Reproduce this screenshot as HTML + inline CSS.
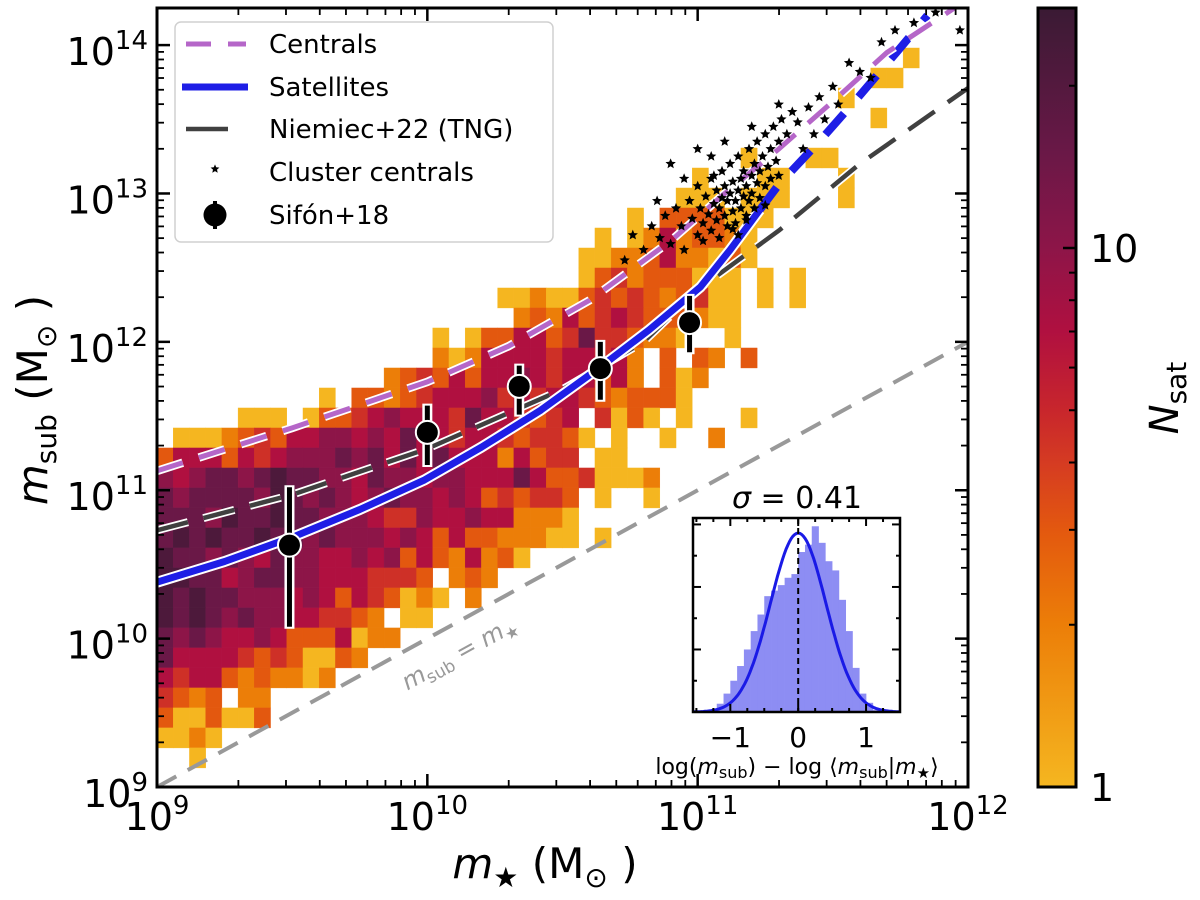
<!DOCTYPE html>
<html><head><meta charset="utf-8"><style>
html,body{margin:0;padding:0;background:#fff;}
svg{display:block;font-family:"DejaVu Sans","Liberation Sans",sans-serif;}
</style></head><body>
<svg id="chart" width="1200" height="900" viewBox="0 0 1200 900" xmlns="http://www.w3.org/2000/svg">
<defs>
<clipPath id="plotclip"><rect x="157" y="8" width="811" height="779"/></clipPath>
<clipPath id="insetclip"><rect x="693" y="518" width="207" height="194"/></clipPath>
<linearGradient id="cbgrad" x1="0" y1="1" x2="0" y2="0"></linearGradient>
</defs>
</svg>
<script>
// ---------- data ----------
const heatRows = [
"","",
"..............................................1",
"............................................11",
"..........................................1",
"............................................1",
"",
"....................................1...11",
".................................1...11...1",
"................................111.111...1",
".............................1.3333111",
"...........................1.12523321",
"..........................11223522131",
"..........................1342333111.1.1",
".....................112113434323411.1.1",
"......................23253454333211",
".................1.13355347443221..1",
".................2125555455452.3.32.3",
"..............2343535565455352.312",
"..........1.332345556454554323331",
".....111.13345655547554345.4131.1...1",
".11123435566565755455434431.1..1..2",
"35553545666767575755525344.11.",
"6567767877665766566555753341112",
"76777768767656766565343443.1..1",
"77768778776665446556552221",
"78787787767666565353322211.1",
"87767657665565635325231",
"88775677665554443.232",
"878776665653543121.2",
"87876766554432.11",
"767655653335122",
"7555543431132",
"54553232212",
"4323.22",
"3113113",
"1121",
"..1",
""
];
const levelCounts = [0, 1, 2, 3, 4.5, 7, 10, 15, 22];

const centralsX = [9.0, 9.5, 10.0, 10.3, 10.6, 10.9, 11.1, 11.3, 11.5, 11.7, 11.95, 12.1];
const centralsY = [11.13, 11.42, 11.73, 11.97, 12.28, 12.68, 13.0, 13.3, 13.62, 13.95, 14.25, 14.45];

const satX = [9.0, 9.25, 9.51, 9.75, 9.99, 10.2, 10.42, 10.64, 10.82, 11.01, 11.12, 11.23, 11.3, 11.45, 11.59, 11.74, 11.85];
const satY = [10.38, 10.52, 10.69, 10.87, 11.07, 11.29, 11.54, 11.83, 12.08, 12.37, 12.62, 12.89, 13.06, 13.35, 13.64, 13.96, 14.2];
const satSolidMax = 11.23;

const tngX = [9.0, 9.5, 10.0, 10.5, 10.8, 11.0, 11.3, 11.6, 12.0];
const tngY = [10.73, 10.97, 11.28, 11.68, 12.0, 12.35, 12.75, 13.2, 13.71];

const sifonX = [9.49, 10.0, 10.34, 10.64, 10.97];
const sifonY = [10.63, 11.39, 11.70, 11.82, 12.13];
const sifonHi = [11.02, 11.57, 11.84, 12.0, 12.31];
const sifonLo = [10.08, 11.17, 11.51, 11.61, 11.93];

const starX = [10.73,10.76,10.8,10.83,10.86,10.88,10.9,10.92,10.94,10.95,10.97,10.98,11.0,11.0,11.01,
11.02,11.03,11.04,11.05,11.05,11.06,11.07,11.07,11.08,11.09,11.09,11.1,11.1,11.11,11.11,11.12,11.12,11.13,11.13,11.14,11.14,11.15,11.15,11.16,11.16,11.17,11.17,11.18,11.18,11.19,11.19,11.2,11.2,11.21,11.21,11.22,11.22,11.23,11.23,11.24,11.25,11.25,11.26,11.27,11.27,11.28,11.29,11.3,11.3,11.31,11.33,11.35,11.37,11.39,11.41,11.43,11.45,11.47,11.5,11.52,11.56,11.6,11.64,11.68,11.73,11.8,11.88,11.97,11.3,11.2,11.0,11.05,10.95,11.1,11.15,11.25,11.08,10.85,10.9,11.02,11.13,11.18,11.06];
const starY = [12.55,12.72,12.62,12.78,12.7,12.85,12.66,12.9,12.78,12.62,12.95,12.83,12.72,13.05,12.9,
12.8,12.98,12.86,13.1,12.75,12.93,13.02,12.82,12.9,13.15,12.97,12.85,13.05,12.78,12.95,13.0,13.2,12.88,13.08,12.95,12.8,13.02,13.25,12.9,13.1,12.98,13.15,12.85,13.05,13.3,12.95,13.12,13.0,13.2,12.9,13.07,13.35,13.15,12.97,13.25,13.05,13.4,13.18,13.3,13.1,13.45,13.22,13.35,13.12,13.5,13.4,13.55,13.48,13.3,13.58,13.4,13.65,13.5,13.72,13.6,13.88,13.82,13.78,14.02,14.1,14.15,14.22,14.1,13.6,13.45,13.3,13.25,13.1,13.35,12.72,12.92,12.7,12.95,13.2,12.68,12.76,12.82,13.12];

const histCenters = [-1.15,-1.05,-0.95,-0.85,-0.75,-0.65,-0.55,-0.45,-0.35,-0.25,-0.15,-0.05,0.05,0.15,0.25,0.35,0.45,0.55,0.65,0.75,0.85,0.95,1.05,1.15];
const histDensity = [0.045,0.10,0.17,0.25,0.34,0.44,0.53,0.63,0.66,0.69,0.73,0.75,0.87,0.91,1.01,0.92,0.82,0.77,0.61,0.44,0.24,0.10,0.05,0.01];
const sigmaFit = 0.41;

const xTickExps = [9, 10, 11, 12];
const yTickExps = [9, 10, 11, 12, 13, 14];
const cbStopVals = [1, 2, 3, 4, 5, 7, 10, 15, 28];
const cbStopCols = ['#f5b620','#ec7e08','#e3580f','#d53b22','#c8262c','#b01040','#8d1548','#6a1847','#3a1a34'];
const cbMinorTicks = [2,3,4,5,6,7,8,9,20];
const insetXTicks = [-1, 0, 1];

// ---------- helpers ----------
const NS = 'http://www.w3.org/2000/svg';
const svg = document.getElementById('chart');
function mk(tag, attrs, parent) {
  const e = document.createElementNS(NS, tag);
  for (const k in attrs) e.setAttribute(k, attrs[k]);
  (parent || svg).appendChild(e);
  return e;
}
const X0 = 157, X1 = 968, Y0 = 8, Y1 = 787;
const xMin = 9, xMax = 12, yMin = 9, yMax = 14.25;
function X(lx) { return X0 + (lx - xMin) / (xMax - xMin) * (X1 - X0); }
function Y(ly) { return Y1 - (ly - yMin) / (yMax - yMin) * (Y1 - Y0); }
function hexToRgb(h) { return [parseInt(h.substr(1,2),16), parseInt(h.substr(3,2),16), parseInt(h.substr(5,2),16)]; }
function cmap(v) {
  const lv = Math.log10(v);
  for (let i = 0; i < cbStopVals.length - 1; i++) {
    const a = Math.log10(cbStopVals[i]), b = Math.log10(cbStopVals[i+1]);
    if (lv <= b || i === cbStopVals.length - 2) {
      const t = Math.max(0, Math.min(1, (lv - a) / (b - a)));
      const c1 = hexToRgb(cbStopCols[i]), c2 = hexToRgb(cbStopCols[i+1]);
      return 'rgb(' + c1.map((c, k) => Math.round(c + (c2[k] - c) * t)).join(',') + ')';
    }
  }
}
function pathFrom(xs, ys) { return xs.map((x, i) => (i ? 'L' : 'M') + X(x).toFixed(1) + ' ' + Y(ys[i]).toFixed(1)).join(' '); }

// ---------- heatmap ----------
const plotG = mk('g', {'clip-path': 'url(#plotclip)'});


const heatG = mk('g', {}, plotG);


const binDX = 0.06, binDY = 20 / 148.4;
heatRows.forEach((row, r) => {
  for (let c = 0; c < row.length; c++) {
    const ch = row[c];
    if (ch === '.' || ch === ' ') continue;
    const v = levelCounts[+ch];
    const lx = xMin + c * binDX, ly = yMax - r * binDY;
    const col = cmap(v);
    const cell = mk('rect', {x: X(lx).toFixed(2), y: Y(ly).toFixed(2), width: (X(lx + binDX) - X(lx)).toFixed(2), height: (Y(ly - binDY) - Y(ly)).toFixed(2), fill: col, stroke: col, 'stroke-width': 0.4}, heatG);
    
    
  }
});

// ---------- one-to-one line ----------
const oneLine = mk('line', {x1: X(9), y1: Y(9), x2: X(12), y2: Y(12), stroke: '#999', 'stroke-width': 4, 'stroke-dasharray': '22 13'}, plotG);


const oneLbl = mk('text', {x: 0, y: 0, 'font-size': 24, fill: '#999', transform: 'translate(463,660) rotate(-28.8)', 'text-anchor': 'middle'}, svg);
oneLbl.innerHTML = '<tspan font-style="italic">m</tspan><tspan font-size="17" dy="5">sub</tspan><tspan dy="-5"> = </tspan><tspan font-style="italic">m</tspan><tspan font-size="16" dy="5">★</tspan>';



// ---------- Niemiec ----------
const tngW = mk('path', {d: pathFrom(tngX, tngY), fill: 'none', stroke: '#fff', 'stroke-width': 8, 'stroke-dasharray': '32 16'}, plotG);


const tngL = mk('path', {d: pathFrom(tngX, tngY), fill: 'none', stroke: '#404040', 'stroke-width': 4.5, 'stroke-dasharray': '32 16'}, plotG);



// ---------- Satellites ----------
const sIdx = satX.findIndex(v => v >= satSolidMax);
const solidX = satX.slice(0, sIdx + 1), solidY = satY.slice(0, sIdx + 1);
const dashX = satX.slice(sIdx), dashY = satY.slice(sIdx);
const satW = mk('path', {d: pathFrom(solidX, solidY), fill: 'none', stroke: '#fff', 'stroke-width': 11, 'stroke-linejoin': 'round'}, plotG);


const satL = mk('path', {d: pathFrom(solidX, solidY), fill: 'none', stroke: '#1e1ee6', 'stroke-width': 7, 'stroke-linejoin': 'round'}, plotG);


const satD = mk('path', {d: pathFrom(dashX, dashY), fill: 'none', stroke: '#1e1ee6', 'stroke-width': 8, 'stroke-dasharray': '28 22'}, plotG);



// ---------- Centrals ----------
const cenW = mk('path', {d: pathFrom(centralsX, centralsY), fill: 'none', stroke: '#fff', 'stroke-width': 8.5, 'stroke-dasharray': '27 17'}, plotG);


const cenL = mk('path', {d: pathFrom(centralsX, centralsY), fill: 'none', stroke: '#b566c8', 'stroke-width': 5, 'stroke-dasharray': '27 17'}, plotG);



// ---------- cluster centrals stars ----------
function starPts(cx, cy, R) {
  const p = [];
  for (let k = 0; k < 10; k++) {
    const a = -Math.PI / 2 + k * Math.PI / 5, rr = k % 2 ? R * 0.45 : R;
    p.push((cx + rr * Math.cos(a)).toFixed(1) + ',' + (cy + rr * Math.sin(a)).toFixed(1));
  }
  return p.join(' ');
}
const starG = mk('g', {}, plotG);


starX.forEach((sx, i) => {
  const st = mk('polygon', {points: starPts(X(sx), Y(starY[i]), 5.4), fill: '#000'}, starG);
  
  
});

// ---------- Sifón ----------
const sifG = mk('g', {}, plotG);


sifonX.forEach((sx, i) => {
  const ew = mk('line', {x1: X(sx), x2: X(sx), y1: Y(sifonHi[i]) - 2, y2: Y(sifonLo[i]) + 2, stroke: '#fff', 'stroke-width': 10}, sifG);
  
  
  const eb = mk('line', {x1: X(sx), x2: X(sx), y1: Y(sifonHi[i]), y2: Y(sifonLo[i]), stroke: '#000', 'stroke-width': 5}, sifG);
  
  
  const pt = mk('circle', {cx: X(sx), cy: Y(sifonY[i]), r: 11.5, fill: '#000', stroke: '#fff', 'stroke-width': 2}, sifG);
  
  
});

// ---------- frame & ticks ----------
const frame = mk('rect', {x: X0, y: Y0, width: X1 - X0, height: Y1 - Y0, fill: 'none', stroke: '#000', 'stroke-width': 3});


const tickG = mk('g', {stroke: '#000'});


function tickLine(x1, y1, x2, y2, w) { const t = mk('line', {x1, y1, x2, y2, 'stroke-width': w}, tickG); return t; }
for (let e = 9; e <= 12; e++) {
  for (let m = 1; m <= 9; m++) {
    const lx = e + Math.log10(m);
    if (lx > 12.0001) continue;
    const x = X(lx), L = m === 1 ? 13 : 7, w = m === 1 ? 2.5 : 1.8;
    tickLine(x, Y1, x, Y1 - L, w);
    tickLine(x, Y0, x, Y0 + L, w);
  }
}
for (let e = 9; e <= 14; e++) {
  for (let m = 1; m <= 9; m++) {
    const ly = e + Math.log10(m);
    if (ly > yMax) continue;
    const y = Y(ly), L = m === 1 ? 13 : 7, w = m === 1 ? 2.5 : 1.8;
    tickLine(X0, y, X0 + L, y, w);
    tickLine(X1, y, X1 - L, y, w);
  }
}
xTickExps.forEach(e => {
  const t = mk('text', {x: X(e), y: 830, 'font-size': 38, 'text-anchor': 'middle'});
  t.innerHTML = '10<tspan font-size="26" dy="-16">' + e + '</tspan>';
  
  
});
yTickExps.forEach(e => {
  const t = mk('text', {x: 148, y: Y(e) + 20, 'font-size': 38, 'text-anchor': 'end'});
  t.innerHTML = '10<tspan font-size="26" dy="-16">' + e + '</tspan>';
  
  
});
const xTitle = mk('text', {x: 545, y: 878, 'font-size': 42, 'text-anchor': 'middle'});
xTitle.innerHTML = '<tspan font-style="italic">m</tspan><tspan font-size="28" dy="9">★</tspan><tspan dy="-9"> (M</tspan><tspan font-size="28" dy="9">⊙</tspan><tspan dy="-9"> )</tspan>';


const yTitle = mk('text', {x: 0, y: 0, 'font-size': 42, 'text-anchor': 'middle', transform: 'translate(47,400) rotate(-90)'});
yTitle.innerHTML = '<tspan font-style="italic">m</tspan><tspan font-size="28" dy="9">sub</tspan><tspan dy="-9"> (M</tspan><tspan font-size="28" dy="9">⊙</tspan><tspan dy="-9"> )</tspan>';



// ---------- legend ----------
const leg = mk('g', {});


const legBox = mk('rect', {x: 175, y: 22, width: 378, height: 220, rx: 6, fill: '#fff', 'fill-opacity': 0.85, stroke: '#d0d0d0', 'stroke-width': 1.5}, leg);


const legLabels = ['Centrals', 'Satellites', 'Niemiec+22 (TNG)', 'Cluster centrals', 'Sifón+18'];
const legYs = [44, 87, 129, 172, 215];
legLabels.forEach((lab, i) => {
  const t = mk('text', {x: 269, y: legYs[i] + 9, 'font-size': 26}, leg);
  t.textContent = lab;
  
  
});
const lh1 = mk('line', {x1: 186, x2: 246, y1: legYs[0], y2: legYs[0], stroke: '#b566c8', 'stroke-width': 5, 'stroke-dasharray': '25 17'}, leg);


const lh2 = mk('line', {x1: 182, x2: 248, y1: legYs[1], y2: legYs[1], stroke: '#1e1ee6', 'stroke-width': 7}, leg);


const lh3 = mk('line', {x1: 186, x2: 228, y1: legYs[2], y2: legYs[2], stroke: '#404040', 'stroke-width': 4.5}, leg);


const lh4 = mk('polygon', {points: starPts(215, legYs[3] - 3, 4.6), fill: '#000'}, leg);


const lh5a = mk('line', {x1: 215, x2: 215, y1: legYs[4] - 14, y2: legYs[4] + 14, stroke: '#000', 'stroke-width': 4}, leg);


const lh5 = mk('circle', {cx: 215, cy: legYs[4], r: 11.5, fill: '#000'}, leg);



// ---------- inset ----------
const IX0 = 693, IX1 = 900, IY0 = 518, IY1 = 712, ixMin = -1.55, ixMax = 1.5, iyMax = 1.055;
function IX(v) { return IX0 + (v - ixMin) / (ixMax - ixMin) * (IX1 - IX0); }
function IY(d) { return IY1 - d / iyMax * (IY1 - IY0); }
const inset = mk('g', {});


const insBg = mk('rect', {x: IX0, y: IY0, width: IX1 - IX0, height: IY1 - IY0, fill: '#fff'}, inset);


const insClip = mk('g', {'clip-path': 'url(#insetclip)'}, inset);
histCenters.forEach((c, i) => {
  const b = mk('rect', {x: IX(c - 0.05), y: IY(histDensity[i]), width: IX(c + 0.05) - IX(c - 0.05) + 0.3, height: IY(0) - IY(histDensity[i]), fill: '#8d8df3'}, insClip);
  
  
});
const gpts = [];
for (let k = 0; k <= 120; k++) {
  const v = ixMin + (ixMax - ixMin) * k / 120;
  const d = Math.exp(-v * v / (2 * sigmaFit * sigmaFit)) / (sigmaFit * Math.sqrt(2 * Math.PI));
  gpts.push((k ? 'L' : 'M') + IX(v).toFixed(1) + ' ' + IY(d).toFixed(1));
}
const gc = mk('path', {d: gpts.join(' '), fill: 'none', stroke: '#1a1ae6', 'stroke-width': 3}, insClip);


const zl = mk('line', {x1: IX(0), x2: IX(0), y1: IY0, y2: IY1, stroke: '#000', 'stroke-width': 2, 'stroke-dasharray': '6 4'}, insClip);


const insFrame = mk('rect', {x: IX0, y: IY0, width: IX1 - IX0, height: IY1 - IY0, fill: 'none', stroke: '#000', 'stroke-width': 2.5}, inset);


for (let v = -1.5; v <= 1.5001; v += 0.25) {
  const major = Math.abs(v - Math.round(v)) < 1e-6;
  const L = major ? 8 : 4;
  mk('line', {x1: IX(v), x2: IX(v), y1: IY1, y2: IY1 - L, stroke: '#000', 'stroke-width': 2}, inset);
  mk('line', {x1: IX(v), x2: IX(v), y1: IY0, y2: IY0 + L, stroke: '#000', 'stroke-width': 2}, inset);
}
for (let d = 0.17; d < iyMax; d += 0.17) {
  const major = Math.round(d / 0.17) % 2 === 0;
  const L = major ? 8 : 4;
  mk('line', {x1: IX0, x2: IX0 + L, y1: IY(d), y2: IY(d), stroke: '#000', 'stroke-width': 2}, inset);
  mk('line', {x1: IX1, x2: IX1 - L, y1: IY(d), y2: IY(d), stroke: '#000', 'stroke-width': 2}, inset);
}
insetXTicks.forEach(v => {
  const t = mk('text', {x: IX(v), y: 747, 'font-size': 28, 'text-anchor': 'middle'}, inset);
  t.textContent = v < 0 ? '−' + Math.abs(v) : String(v);
  
  
});
const insTitle = mk('text', {x: 797, y: 508, 'font-size': 30, 'text-anchor': 'middle'}, inset);
insTitle.innerHTML = '<tspan font-style="italic">σ</tspan> = 0.41';


const insX = mk('text', {x: 797, y: 774, 'font-size': 22, 'text-anchor': 'middle'}, inset);
insX.innerHTML = 'log(<tspan font-style="italic">m</tspan><tspan font-size="16" dy="4">sub</tspan><tspan dy="-4">) − log ⟨</tspan><tspan font-style="italic">m</tspan><tspan font-size="16" dy="4">sub</tspan><tspan dy="-4">|</tspan><tspan font-style="italic">m</tspan><tspan font-size="15" dy="4">★</tspan><tspan dy="-4">⟩</tspan>';



// ---------- colorbar ----------
const CB0 = 787, CBtop = 8, cbPerDec = 539, cbX = 1038, cbW = 38;
function CY(v) { return CB0 - Math.log10(v) * cbPerDec; }
const grad = document.getElementById('cbgrad');
const cbTopVal = Math.pow(10, (CB0 - CBtop) / cbPerDec);
cbStopVals.forEach((v, i) => {
  const off = Math.min(1, Math.log10(v) / Math.log10(cbTopVal));
  mk('stop', {offset: off, 'stop-color': cbStopCols[i]}, grad);
});
const cb = mk('rect', {x: cbX, y: CBtop, width: cbW, height: CB0 - CBtop, fill: 'url(#cbgrad)', stroke: '#000', 'stroke-width': 3});


cbMinorTicks.forEach(v => {
  const t = mk('line', {x1: cbX + cbW, x2: cbX + cbW - 7, y1: CY(v), y2: CY(v), stroke: '#000', 'stroke-width': 2});
  
  
});
const cbMaj = mk('line', {x1: cbX + cbW, x2: cbX + cbW - 13, y1: CY(10), y2: CY(10), stroke: '#000', 'stroke-width': 2.5});


const cb10 = mk('text', {x: 1090, y: CY(10) + 14, 'font-size': 38});
cb10.textContent = '10';


const cb1 = mk('text', {x: 1090, y: CB0 + 14, 'font-size': 38});
cb1.textContent = '1';


const cbT = mk('text', {x: 0, y: 0, 'font-size': 40, 'text-anchor': 'middle', transform: 'translate(1178,398) rotate(-90)'});
cbT.innerHTML = '<tspan font-style="italic">N</tspan><tspan font-size="28" dy="8">sat</tspan>';


</script>
</body></html>
